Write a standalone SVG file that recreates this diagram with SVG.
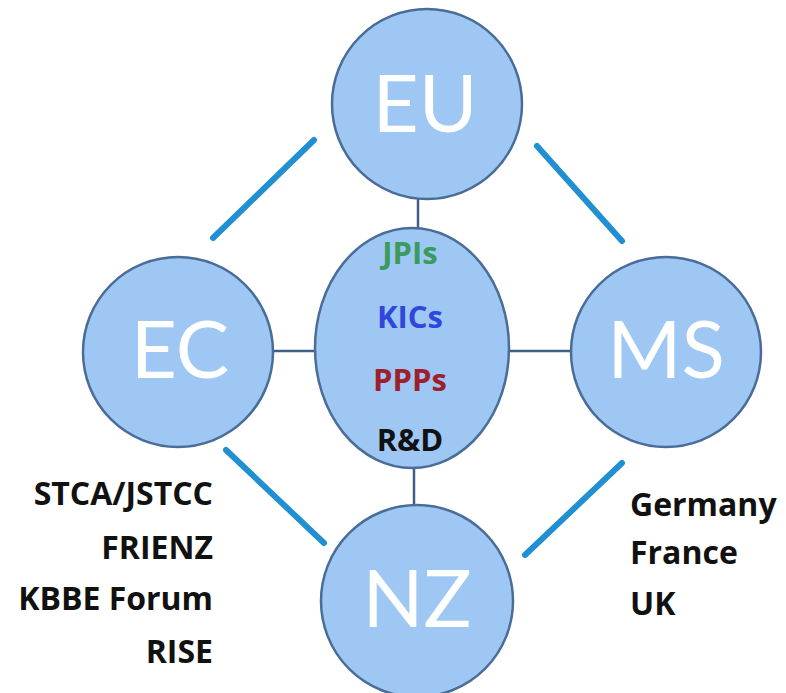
<svg xmlns="http://www.w3.org/2000/svg" width="786" height="693" viewBox="0 0 786 693">
<style>
.node{fill:#9ec7f4;stroke:#4a6d98;stroke-width:2.5}
.big{font-family:Lato,"Open Sans","Liberation Sans",sans-serif;font-size:80px;fill:#ffffff;text-anchor:middle}
.mid{font-family:"Open Sans","Liberation Sans",sans-serif;font-weight:bold;font-size:31px;text-anchor:middle}
.side{font-family:"Open Sans","Liberation Sans",sans-serif;font-weight:bold;font-size:32px;fill:#111111}
.thin{stroke:#3f5f88;stroke-width:2.5;fill:none}
.diag{stroke:#2190d2;stroke-width:6;stroke-linecap:round;fill:none}
</style>
<rect width="786" height="693" fill="#ffffff"/>
<g id="connectors">
<line class="thin" x1="418" y1="198" x2="418" y2="229"/>
<line class="thin" x1="414" y1="467" x2="414" y2="506"/>
<line class="thin" x1="272" y1="351" x2="316" y2="351"/>
<line class="thin" x1="508" y1="351" x2="572" y2="351"/>
<line class="diag" x1="213" y1="238" x2="314" y2="140"/>
<line class="diag" x1="537" y1="146" x2="622" y2="241"/>
<line class="diag" x1="226" y1="450" x2="324" y2="543"/>
<line class="diag" x1="525" y1="555" x2="622" y2="463"/>
</g>
<g id="EU">
<circle class="node" cx="427" cy="104" r="95"/>
<text class="big" x="425" y="132">EU</text>
</g>
<g id="EC">
<circle class="node" cx="178" cy="352" r="95"/>
<text class="big" x="180" y="378">EC</text>
</g>
<g id="MS">
<circle class="node" cx="666" cy="352" r="95"/>
<text class="big" x="666" y="378">MS</text>
</g>
<g id="NZ">
<circle class="node" cx="417" cy="601" r="96"/>
<text class="big" x="417" y="627">NZ</text>
</g>
<g id="center">
<ellipse class="node" cx="412" cy="348" rx="97" ry="120"/>
<text class="mid" x="410" y="264" fill="#3b9a5e">JPIs</text>
<text class="mid" x="410" y="328" fill="#3146db">KICs</text>
<text class="mid" x="410" y="391" fill="#9e1f2e">PPPs</text>
<text class="mid" x="410" y="451" fill="#111111">R&amp;D</text>
</g>
<g id="left-list" text-anchor="end">
<text class="side" x="213" y="505">STCA/JSTCC</text>
<text class="side" x="213" y="559">FRIENZ</text>
<text class="side" x="213" y="610">KBBE Forum</text>
<text class="side" x="213" y="663">RISE</text>
</g>
<g id="right-list">
<text class="side" x="630" y="516">Germany</text>
<text class="side" x="630" y="564">France</text>
<text class="side" x="630" y="615">UK</text>
</g>
</svg>
